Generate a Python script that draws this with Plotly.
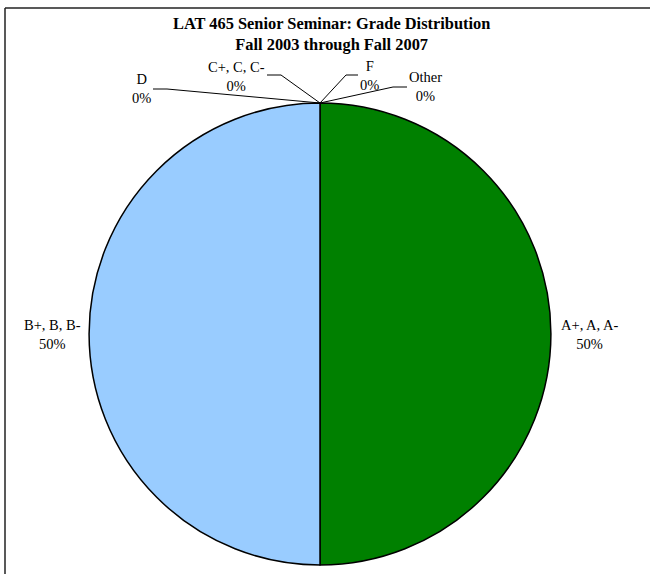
import plotly.graph_objects as go

W, H = 650, 574

categories = ["A+, A, A-", "B+, B, B-", "C+, C, C-", "D", "F", "Other"]
values = [50, 50, 0, 0, 0, 0]
colors = ["#008000", "#99CCFF", "#FFFFFF", "#FFFFFF", "#FFFFFF", "#FFFFFF"]
title_lines = ["LAT 465 Senior Seminar: Grade Distribution", "Fall 2003 through Fall 2007"]

total = sum(values)
pct = [round(100 * v / total) for v in values]

# pie geometry (pixels)
cx, cy, r = 320, 334, 231

def px(x):
    return x / W

def py(y):
    return 1 - y / H

nz = [i for i, v in enumerate(values) if v > 0]

fig = go.Figure(go.Pie(
    labels=[categories[i] for i in nz],
    values=[values[i] for i in nz],
    marker=dict(colors=[colors[i] for i in nz], line=dict(color="black", width=1.5)),
    sort=False,
    direction="clockwise",
    rotation=0,
    textinfo="none",
    hoverinfo="label+percent",
    domain=dict(x=[px(cx - r), px(cx + r)], y=[py(cy + r), py(cy - r)]),
    showlegend=False,
))

# label positions (pixel centres) and leader lines
label_pos = {
    "A+, A, A-": (589, 334),
    "B+, B, B-": (52, 334),
    "C+, C, C-": (236, 76),
    "D": (141, 89),
    "F": (369, 75.5),
    "Other": (425, 86.5),
}
leaders = {
    "C+, C, C-": [(267, 75), (281, 75)],
    "D": [(153, 89), (167, 89)],
    "F": [(358, 75), (346, 75)],
    "Other": [(407, 87), (393, 87)],
}

annotations = []
for c, p in zip(categories, pct):
    x, y = label_pos[c]
    annotations.append(dict(
        x=px(x), y=py(y), xref="paper", yref="paper",
        text=f"{c}<br>{p}%", showarrow=False, align="center",
        xanchor="center", yanchor="middle",
        font=dict(family="Liberation Serif", size=14.5, color="black"),
    ))

annotations.append(dict(
    x=px(331), y=py(34), xref="paper", yref="paper",
    text="<br>".join(f"<b>{t}</b>" for t in title_lines), showarrow=False,
    xanchor="center", yanchor="middle", align="center",
    font=dict(family="Liberation Serif", size=16.4, color="black"),
))

shapes = []
top = (cx, cy - r)
for c, pts in leaders.items():
    (x0, y0), (x1, y1) = pts
    shapes.append(dict(type="line", xref="paper", yref="paper",
                       x0=px(x0), y0=py(y0), x1=px(x1), y1=py(y1),
                       line=dict(color="black", width=1)))
    shapes.append(dict(type="line", xref="paper", yref="paper",
                       x0=px(x1), y0=py(y1), x1=px(top[0]), y1=py(top[1]),
                       line=dict(color="black", width=1)))

# frame (partially cropped chart border)
shapes.append(dict(type="line", xref="paper", yref="paper",
                   x0=px(5), y0=py(8), x1=px(W + 5), y1=py(8),
                   line=dict(color="#222", width=1.5)))
shapes.append(dict(type="line", xref="paper", yref="paper",
                   x0=px(5), y0=py(8), x1=px(5), y1=py(H + 5),
                   line=dict(color="#222", width=1.5)))

fig.update_layout(
    width=W, height=H,
    margin=dict(l=0, r=0, t=0, b=0),
    paper_bgcolor="white", plot_bgcolor="white",
    annotations=annotations, shapes=shapes,
)

fig.write_html("out.html",
               config={"displayModeBar": False},
               post_script="document.body.style.margin='0px';document.body.style.overflow='hidden';")
